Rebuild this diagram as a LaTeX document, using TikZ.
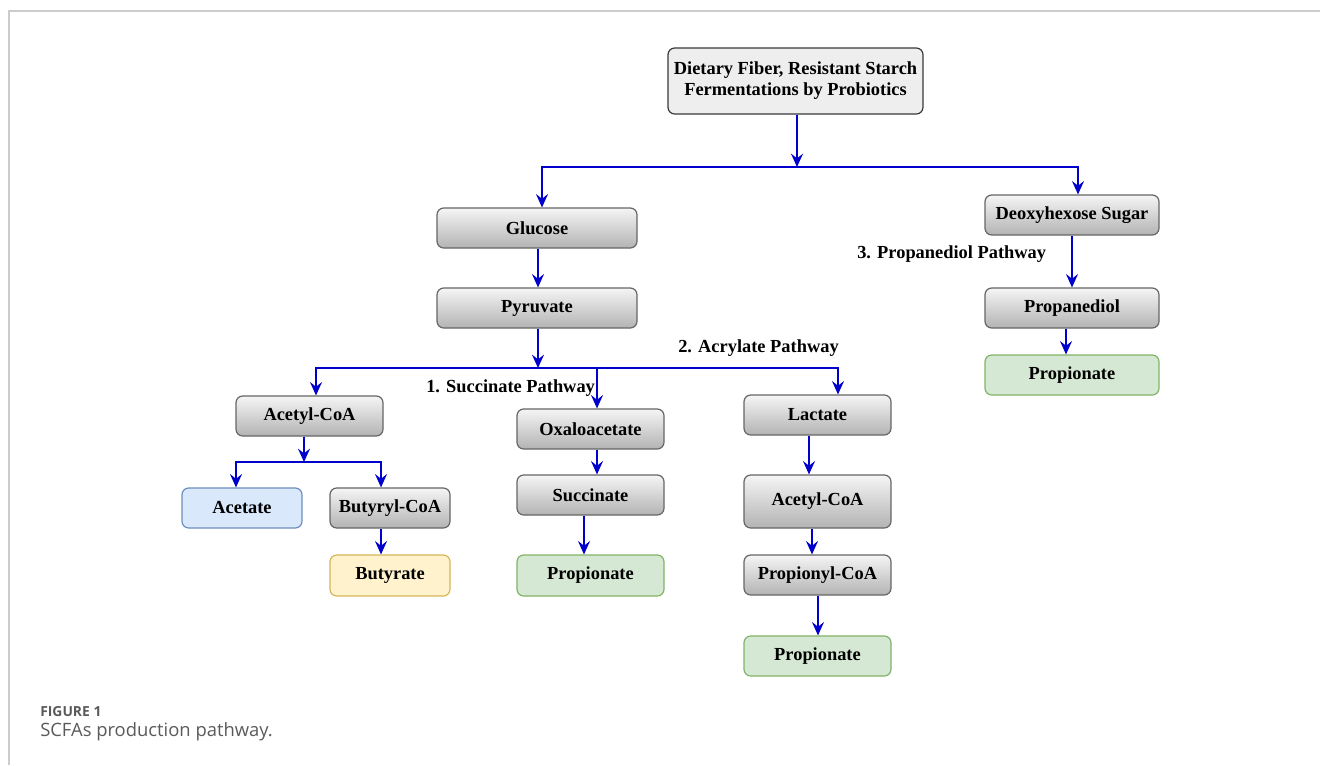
\documentclass[tikz,border=0pt]{standalone}
\usepackage{fontspec}
\setmainfont{Liberation Serif}
\newfontfamily\capfont{Open Sans}
\usetikzlibrary{arrows.meta,shadings}
\definecolor{arrowblue}{HTML}{0000CC}
\definecolor{graytop}{HTML}{F5F5F5}
\definecolor{graybot}{HTML}{B3B3B3}
\definecolor{grayborder}{HTML}{666666}
\definecolor{topfill}{HTML}{EEEEEE}
\definecolor{topborder}{HTML}{36393D}
\definecolor{bluefill}{HTML}{DAE8FC}
\definecolor{blueborder}{HTML}{6C8EBF}
\definecolor{yellowfill}{HTML}{FFF2CC}
\definecolor{yellowborder}{HTML}{D6B656}
\definecolor{greenfill}{HTML}{D5E8D4}
\definecolor{greenborder}{HTML}{82B366}
\definecolor{framegray}{HTML}{CCCCCC}
\definecolor{capgray}{HTML}{5A5A5A}
\tikzset{
  box/.style={rounded corners=5pt, line width=0.9pt, inner sep=0pt,
    font=\fontsize{13.8}{15.75}\selectfont\bfseries, align=center},
  graybox/.style={box, draw=grayborder, top color=graytop, bottom color=graybot},
  topbox/.style={box, draw=topborder, fill=topfill},
  bluebox/.style={box, draw=blueborder, fill=bluefill},
  yellowbox/.style={box, draw=yellowborder, fill=yellowfill},
  greenbox/.style={box, draw=greenborder, fill=greenfill},
  conn/.style={draw=arrowblue, line width=1.1pt},
  arr/.style={conn, -{Stealth[length=10pt,width=9pt,inset=3.5pt]}},
  lbl/.style={font=\fontsize{13.8}{15.75}\selectfont\bfseries, inner sep=0pt}
}
\begin{document}
\begin{tikzpicture}[x=0.75pt,y=-0.75pt]
\useasboundingbox (0,0) rectangle (1320,765);
% frame
\draw[framegray, line width=0.8pt] (9,765) -- (9,11) -- (1320,11);
% nodes (pixel geometry)
\node[topbox, minimum width=255*0.75pt, minimum height=66*0.75pt] (top) at (795.5,81) {Dietary Fiber, Resistant Starch\\Fermentations by Probiotics};
\node[graybox, minimum width=200*0.75pt, minimum height=40*0.75pt] (glu) at (537,228) {Glucose};
\node[graybox, minimum width=200*0.75pt, minimum height=40*0.75pt] (pyr) at (537,308) {Pyruvate};
\node[graybox, minimum width=174*0.75pt, minimum height=40*0.75pt] (deo) at (1072,215) {Deoxyhexose Sugar};
\node[graybox, minimum width=174*0.75pt, minimum height=40*0.75pt] (prd) at (1072,308) {Propanediol};
\node[greenbox, minimum width=174*0.75pt, minimum height=40*0.75pt] (pr3) at (1072,375) {Propionate};
\node[graybox, minimum width=147*0.75pt, minimum height=40*0.75pt] (aca) at (309.5,416) {Acetyl-CoA};
\node[graybox, minimum width=147*0.75pt, minimum height=40*0.75pt] (oxa) at (590.5,429) {Oxaloacetate};
\node[graybox, minimum width=147*0.75pt, minimum height=40*0.75pt] (lac) at (817.5,415) {Lactate};
\node[bluebox, minimum width=120*0.75pt, minimum height=40*0.75pt] (ace) at (242,508) {Acetate};
\node[graybox, minimum width=120*0.75pt, minimum height=40*0.75pt] (buc) at (390,508) {Butyryl-CoA};
\node[yellowbox, minimum width=120*0.75pt, minimum height=41*0.75pt] (but) at (390,575.5) {Butyrate};
\node[graybox, minimum width=147*0.75pt, minimum height=40*0.75pt] (suc) at (590.5,495) {Succinate};
\node[greenbox, minimum width=147*0.75pt, minimum height=41*0.75pt] (pr1) at (590.5,575.5) {Propionate};
\node[graybox, minimum width=147*0.75pt, minimum height=53*0.75pt] (acb) at (817.5,501.5) {Acetyl-CoA};
\node[graybox, minimum width=147*0.75pt, minimum height=40*0.75pt] (ppc) at (817.5,575) {Propionyl-CoA};
\node[greenbox, minimum width=147*0.75pt, minimum height=40*0.75pt] (pr2) at (817.5,656) {Propionate};
% junction coordinates
\coordinate (j1) at (797,167);
\coordinate (j2) at (538,368);
\coordinate (j3) at (304,462);
% connectors
\draw[arr] (top.south -| j1) -- (j1);
\draw[arr] (j1) -| (glu.north -| 542,0);
\draw[arr] (j1) -| (deo.north -| 1078,0);
\draw[arr] (glu.south -| 538,0) -- (pyr.north -| 538,0);
\draw[arr] (pyr.south -| j2) -- (j2);
\draw[arr] (j2) -| (aca.north -| 316,0);
\draw[arr] (j2) -| (oxa.north -| 597,0);
\draw[arr] (j2) -| (lac.north -| 838,0);
\draw[arr] (aca.south -| j3) -- (j3);
\draw[arr] (j3) -| (ace.north -| 236,0);
\draw[arr] (j3) -| (buc.north -| 381,0);
\draw[arr] (buc.south -| 381,0) -- (but.north -| 381,0);
\draw[arr] (oxa.south -| 597,0) -- (suc.north -| 597,0);
\draw[arr] (suc.south -| 584,0) -- (pr1.north -| 584,0);
\draw[arr] (lac.south -| 809,0) -- (acb.north -| 809,0);
\draw[arr] (acb.south -| 812,0) -- (ppc.north -| 812,0);
\draw[arr] (ppc.south -| 818,0) -- (pr2.north -| 818,0);
\draw[arr] (deo.south -| 1072,0) -- (prd.north -| 1072,0);
\draw[arr] (prd.south -| 1066,0) -- (pr3.north -| 1066,0);
% labels
\node[lbl, anchor=west] (l3) at (857,254) {3. Propanediol Pathway};
\node[lbl, anchor=west] (l2) at (678,348) {2. Acrylate Pathway};
\node[lbl, anchor=west] (l1) at (426,388) {1. Succinate Pathway};
% caption
\node[anchor=west, inner sep=0pt, text=capgray, font=\capfont\fontsize{10.4}{12}\selectfont\bfseries] (fig) at (40,712) {FIGURE 1};
\node[anchor=west, inner sep=0pt, text=capgray, font=\capfont\fontsize{13.8}{16}\selectfont] (cap) at (40,732) {SCFAs production pathway.};
\end{tikzpicture}
\end{document}
